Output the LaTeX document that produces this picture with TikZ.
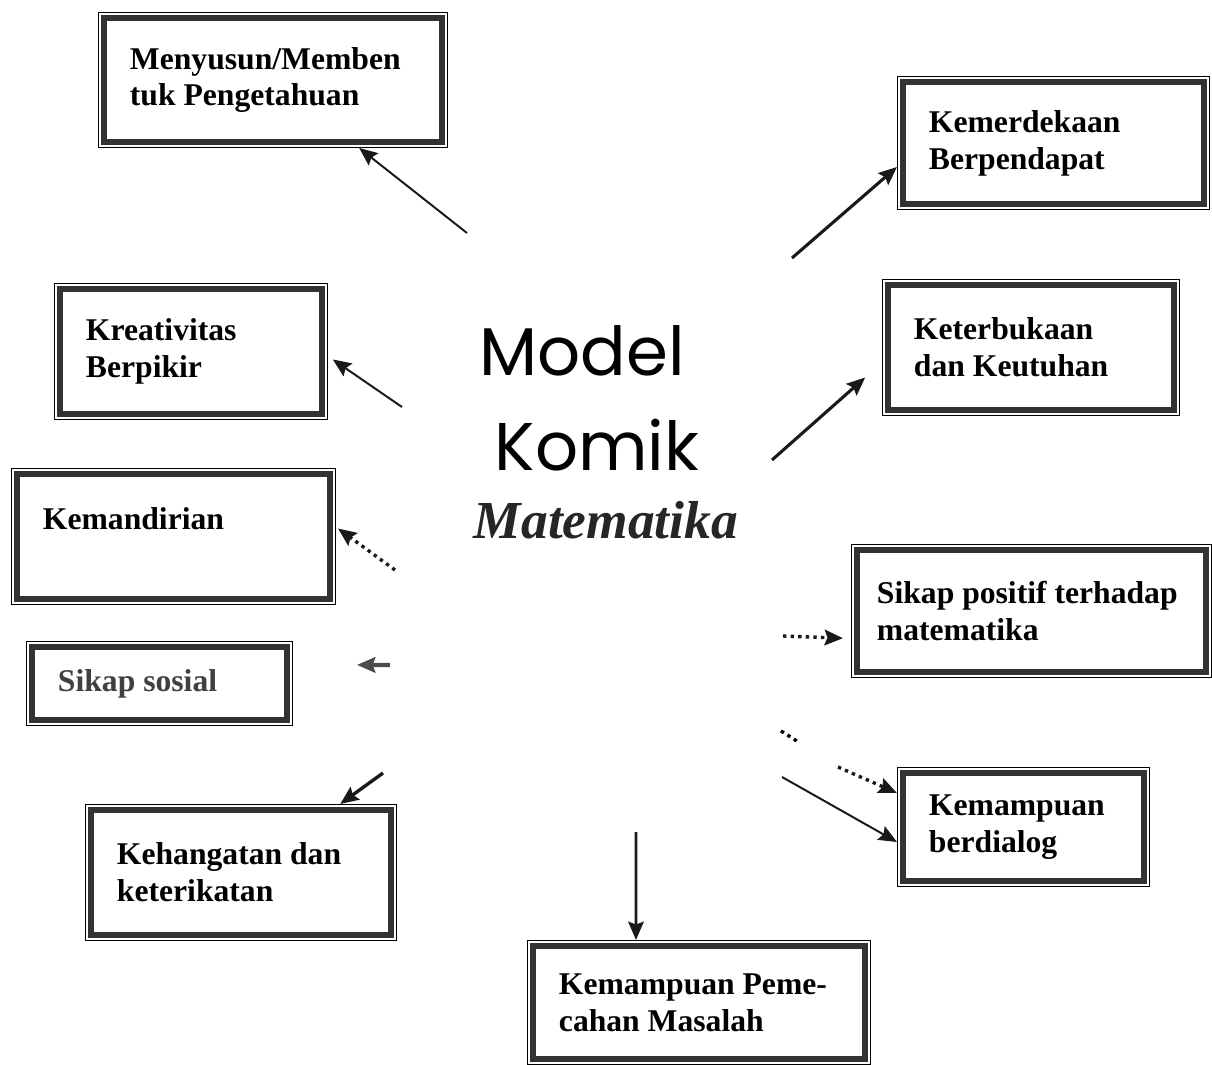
\documentclass[tikz,border=0pt]{standalone}
\usepackage{fontspec}
\setmainfont{Liberation Serif}
\newfontfamily\comicfont{Poppins}
\usetikzlibrary{arrows, arrows.meta, positioning}
\tikzstyle{frameNode} = [rectangle, draw=black!80, line width=4.2pt, fill=white, align=flush left, inner xsep=0.65cm, inner ysep=0.2cm, outer sep=0.15cm, font=\bfseries\fontsize{22.5}{26.2}\selectfont, preaction={draw=black, line width=8.6pt}, preaction={draw=white, line width=6.6pt}]
\tikzstyle{titleNode} = [font=\comicfont\fontsize{48}{58}\selectfont, anchor=base, inner sep=0pt]
\tikzstyle{subNode} = [font=\bfseries\itshape\fontsize{38}{44}\selectfont, text=black!85, anchor=base, inner sep=0pt]
\tikzstyle{arrow} = [line width=1.8pt, -{Stealth[length=13pt,width=11pt,inset=2pt]}, draw=black!90]
\tikzstyle{dotArrow} = [arrow, line width=2.4pt, dash pattern=on 2.4pt off 3pt]
\tikzstyle{dotLine} = [line width=2.4pt, dash pattern=on 2.4pt off 3pt, draw=black]
\begin{document}
\begin{tikzpicture}[x=0.025cm, y=-0.025cm]
        \useasboundingbox[fill=white] (0,0) rectangle (1212,1065);
        % centre title
        \node (model) [titleNode] at (582,375) {Model};
        \node (komik) [titleNode] at (597,470) {Komik};
        \node (matematika) [subNode] at (606,538) {Matematika};

        % outer boxes
        \node (menyusun) [frameNode, text width=7.15cm, minimum height=3.1cm] at (273,80) {Menyusun/Memben\\tuk Pengetahuan};
        \node (kemerdekaan) [frameNode, text width=6.225cm, minimum height=3.05cm] at (1053.5,143) {Kemerdekaan\\Berpendapat};
        \node (kreativitas) [frameNode, text width=5.25cm, minimum height=3.125cm] at (191,351.5) {Kreativitas\\Berpikir};
        \node (keterbukaan) [frameNode, text width=5.85cm, minimum height=3.125cm] at (1031,347.5) {Keterbukaan\\dan Keutuhan};
        \node (kemandirian) [frameNode, text width=6.525cm, minimum height=3.125cm] at (173.5,536.5) {Kemandirian\\\mbox{}};
        \node (sosial) [frameNode, text width=5.075cm, minimum height=1.825cm, text=black!75] at (159.5,683.5) {Sikap sosial};
        \node (positif) [frameNode, inner xsep=0.5cm, text width=7.725cm, minimum height=3.05cm] at (1031.5,611) {Sikap positif terhadap\\matematika};
        \node (kehangatan) [frameNode, text width=6.2cm, minimum height=3.125cm] at (241,872.5) {Kehangatan dan\\keterikatan};
        \node (dialog) [frameNode, text width=4.725cm, minimum height=2.7cm] at (1023.5,827) {Kemampuan\\berdialog};
        \node (pemecahan) [frameNode, text width=7cm, minimum height=2.825cm] at (699,1002.5) {Kemampuan Peme-\\cahan Masalah};

        % free ends of the connectors
        \coordinate (s1) at (467,233);
        \coordinate (s2) at (792,258);
        \coordinate (s3) at (402,407);
        \coordinate (s4) at (772,460);
        \coordinate (s5) at (395,570);
        \coordinate (s6) at (390,665);
        \coordinate (s7) at (383,773);
        \coordinate (s8) at (783,636);
        \coordinate (s9a) at (781,731);
        \coordinate (s9b) at (800,743);
        \coordinate (s10) at (838,767);
        \coordinate (s11) at (782,777);
        \coordinate (s12) at (636,832);

        \draw [arrow, line width=1.4pt] (s1) -- (menyusun);
        \draw [arrow, line width=2.2pt] (s2) -- ([yshift=-0.6cm]kemerdekaan.west);
        \draw [arrow, line width=1.4pt] (s3) -- ([xshift=0.12cm,yshift=-0.2cm]kreativitas.east);
        \draw [arrow, line width=2.2pt] (s4) -- ([xshift=-0.42cm,yshift=-0.75cm]keterbukaan.west);
        \draw [dotArrow] (s5) -- ([xshift=0.05cm,yshift=0.2cm]kemandirian.east);
        \draw [arrow, line width=3pt, draw=black!70, shorten >=1.6cm] (s6) -- ([yshift=0.47cm]sosial.east);
        \draw [arrow, line width=2.4pt] (s7) -- ([xshift=2.48cm]kehangatan.north);
        \draw [dotArrow] (s8) -- ([xshift=-0.2cm,yshift=-0.68cm]positif.west);
        \draw [dotLine] (s9a) -- (s9b);
        \draw [dotArrow] (s10) -- ([yshift=0.85cm]dialog.west);
        \draw [arrow, line width=1.4pt] (s11) -- ([yshift=-0.375cm]dialog.west);
        \draw [arrow, line width=2pt] (s12) -- ([xshift=-1.575cm]pemecahan.north);
    \end{tikzpicture}
\end{document}
